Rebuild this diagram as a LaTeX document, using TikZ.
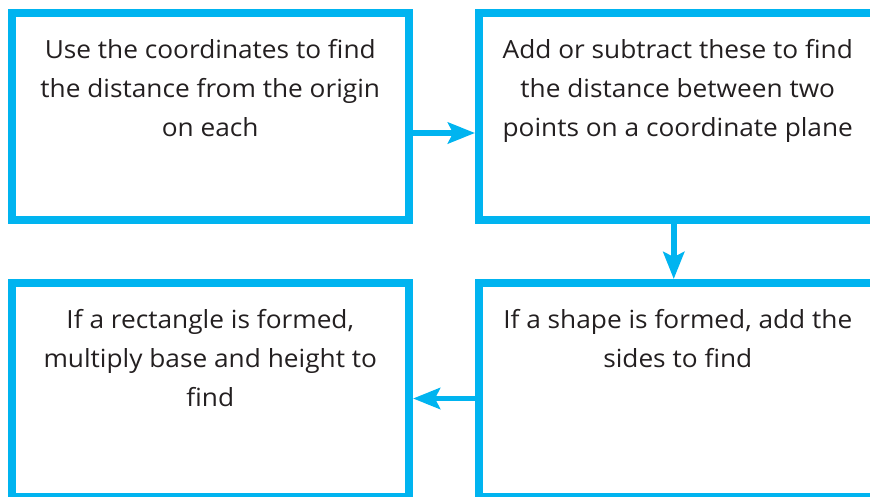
\documentclass[tikz,border=0pt]{standalone}
\usepackage{fontspec}
\setmainfont{Open Sans}[FakeStretch=1.05]
\usetikzlibrary{arrows.meta}
\definecolor{boxblue}{RGB}{0,180,240}
\definecolor{txt}{RGB}{35,31,32}
\begin{document}
\begin{tikzpicture}[x=1pt,y=-1pt,
  box/.style={draw=boxblue, line width=8pt, minimum width=397.5pt, minimum height=207pt, inner sep=0pt},
  boxtext/.style={anchor=north, text=txt, align=center, font=\fontsize{25}{39}\selectfont, inner sep=0pt},
  conn/.style={draw=boxblue, line width=5.5pt, -{Stealth[length=27pt,width=21pt,inset=5pt]}}]
\useasboundingbox (0,0) rectangle (870,496);
\clip (0,0) rectangle (870,496);
\node[box] (b1) at (210.25,116.5) {};
\node[box] (b2) at (677.75,116.5) {};
\node[box, minimum height=214pt] (b3) at (210.25,390) {};
\node[box, minimum height=214pt] (b4) at (677.75,390) {};
\node[boxtext] (t1) at ([yshift=-30pt]b1.north) {Use the coordinates to find\\the distance from the origin\\on each};
\node[boxtext] (t2) at ([yshift=-30pt]b2.north) {Add or subtract these to find\\the distance between two\\points on a coordinate plane};
\node[boxtext] (t3) at ([yshift=-30pt]b3.north) {If a rectangle is formed,\\multiply base and height to\\find};
\node[boxtext] (t4) at ([yshift=-30pt]b4.north) {If a shape is formed, add the\\sides to find};
\draw[conn] ([yshift=-16.5pt]b1.east) -- ([yshift=-16.5pt]b2.west);
\draw[conn] ([xshift=-4pt]b2.south) -- ([xshift=-4pt]b4.north);
\draw[conn] ([yshift=-8.5pt]b4.west) -- ([yshift=-8.5pt]b3.east);
\end{tikzpicture}
\end{document}
